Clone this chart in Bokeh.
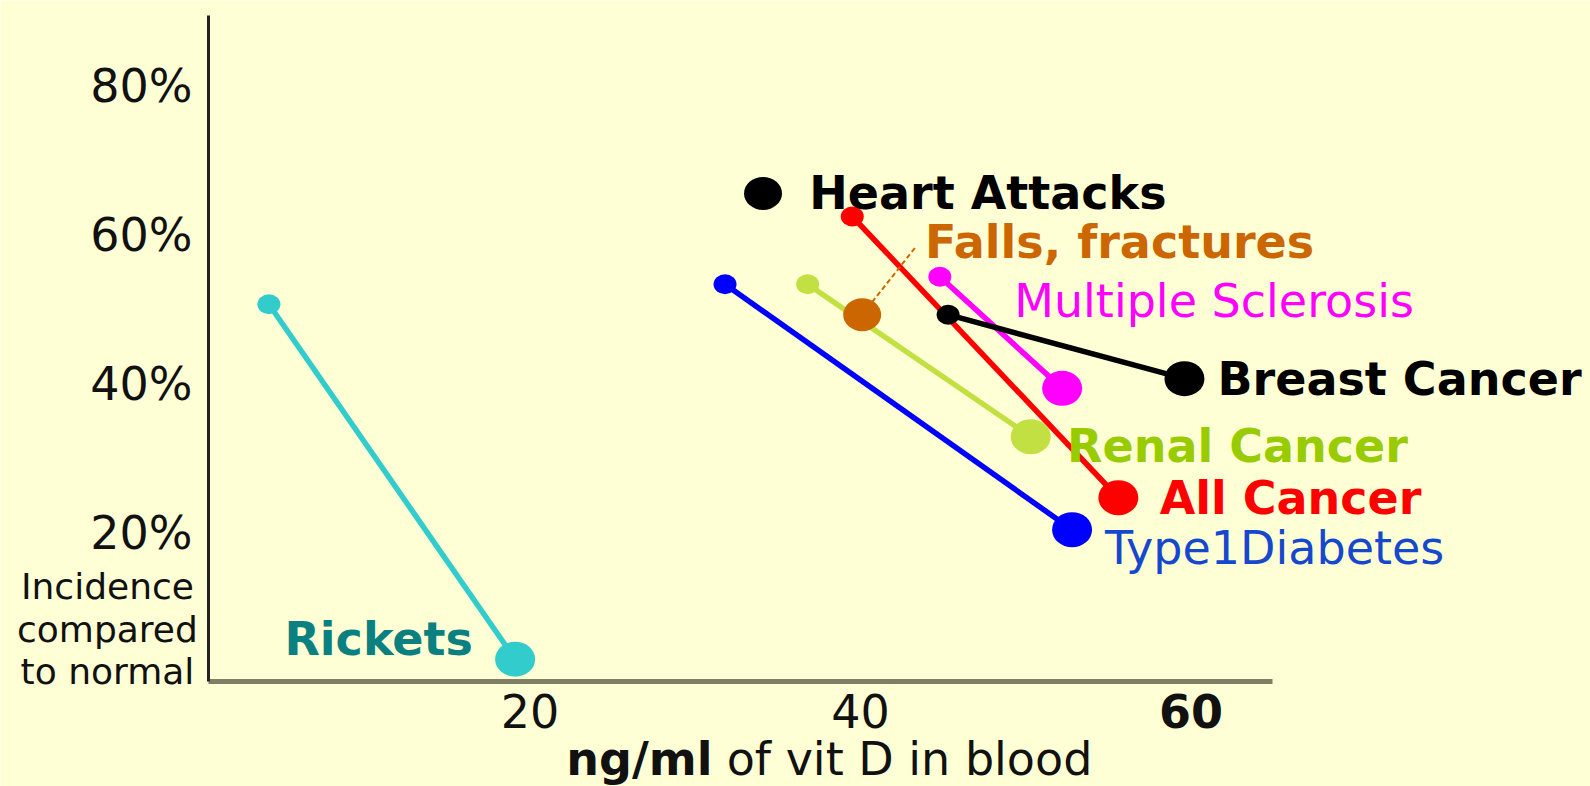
from bokeh.plotting import figure
from bokeh.models import Range1d, FixedTicker, LinearAxis, ColumnDataSource
from bokeh.core.properties import value
from bokeh.embed import file_html
from bokeh.resources import INLINE

# --- data -------------------------------------------------------------
# conditions drawn as a line from a low vitamin D level to a high one
conditions = ["Rickets", "Type1Diabetes", "Renal Cancer",
              "Multiple Sclerosis", "Breast Cancer", "All Cancer"]
vitd_low = [4.2, 31.8, 36.8, 44.8, 45.3, 39.5]        # ng/ml
incidence_low = [50.7, 53.4, 53.4, 54.4, 49.3, 62.5]  # %
vitd_high = [19.1, 52.8, 50.3, 52.2, 59.6, 55.6]      # ng/ml
incidence_high = [3.0, 20.4, 32.9, 39.4, 40.7, 24.7]  # %

# conditions shown as a single point
single_names = ["Heart Attacks", "Falls, fractures"]
single_vitd = [34.1, 40.1]
single_incidence = [65.6, 49.3]

x_ticks = [20, 40, 60]
y_ticks = [20, 40, 60, 80]
y_tick_labels = ["20%", "40%", "60%", "80%"]
caption_lines = ["Incidence", "compared", "to normal"]

# --- styling ------------------------------------------------------------
BG = "#FFFFD5"
FONT = "DejaVu Sans"
INK = "#111111"
line_colors = ["#33CCCC", "#0000FF", "#C3E043", "#FF00FF", "#000000", "#FF0000"]
text_colors = ["#0A8080", "#1548CC", "#99CC00", "#FF00FF", "#000000", "#FF0000"]
text_styles = ["bold", "normal", "bold", "normal", "bold", "bold"]
single_dot_colors = ["#000000", "#CC6600"]
single_text_colors = ["#000000", "#CC6600"]

# the plot frame covers the whole canvas; axes sit at fixed data positions
X_AXIS_START, X_AXIS_END = 0.545, 64.9
Y_AXIS_TOP = 89.5
p = figure(width=1590, height=786,
           x_range=Range1d(-12.04, 84.17), y_range=Range1d(-14.11, 91.53),
           output_backend="svg", toolbar_location=None,
           x_axis_location=None, y_axis_location=None,
           min_border=0,
           background_fill_color=BG, border_fill_color=BG,
           outline_line_color=None)
p.grid.grid_line_color = None


def plain_axis(ax, size="46px", style="normal", standoff=6):
    ax.major_tick_line_color = None
    ax.minor_tick_line_color = None
    ax.major_label_standoff = standoff
    ax.major_label_text_font = FONT
    ax.major_label_text_font_size = size
    ax.major_label_text_font_style = style
    ax.major_label_text_color = INK


# y axis
yax = LinearAxis(fixed_location=X_AXIS_START, ticker=FixedTicker(ticks=y_ticks),
                 major_label_overrides={t: s for t, s in zip(y_ticks, y_tick_labels)},
                 bounds=(0, Y_AXIS_TOP))
yax.axis_line_color = "#222222"
yax.axis_line_width = 3
plain_axis(yax, standoff=10)
p.add_layout(yax, "left")

# x axis on the zero line
xax = LinearAxis(fixed_location=0, ticker=FixedTicker(ticks=x_ticks[:2]),
                 bounds=(X_AXIS_START, X_AXIS_END))
xax.axis_line_color = "#7F7F66"
xax.axis_line_width = 5
plain_axis(xax)
p.add_layout(xax, "below")

xax_bold = LinearAxis(fixed_location=0, ticker=FixedTicker(ticks=x_ticks[2:]))
xax_bold.axis_line_color = None
plain_axis(xax_bold, style="bold")
p.add_layout(xax_bold, "below")

# x axis title: bold unit followed by plain text
p.text(x=[22.2], y=[-10.35], text=["ng/ml"], text_font=value(FONT),
       text_font_size="46px", text_font_style="bold", text_color=INK,
       text_align="left", text_baseline="middle")
p.text(x=[31.9], y=[-10.35], text=["of vit D in blood"], text_font=value(FONT),
       text_font_size="46px", text_color=INK,
       text_align="left", text_baseline="middle")

# y axis caption under the percentage ticks
p.text(x=[-5.57] * 3, y=[12.77, 6.99, 1.34], text=caption_lines,
       text_font=value(FONT), text_font_size="36px", text_color=INK,
       text_align="center", text_baseline="middle")

# --- lines and dots -------------------------------------------------------
src = ColumnDataSource(dict(name=conditions, x0=vitd_low, y0=incidence_low,
                            x1=vitd_high, y1=incidence_high,
                            color=line_colors))
p.segment(x0="x0", y0="y0", x1="x1", y1="y1", line_color="color",
          line_width=5.5, source=src)
p.ellipse(x="x0", y="y0", width=23, height=20, width_units="screen",
          height_units="screen", fill_color="color", line_color=None, source=src)
p.ellipse(x="x1", y="y1", width=40, height=35, width_units="screen",
          height_units="screen", fill_color="color", line_color=None, source=src)

# leader from the falls point to its label
p.segment(x0=[single_vitd[1]], y0=[single_incidence[1]], x1=[43.3], y1=[58.3],
          line_color="#CC6600", line_width=2, line_dash="5 3")

single_src = ColumnDataSource(dict(name=single_names, x=single_vitd,
                                   y=single_incidence, color=single_dot_colors))
p.ellipse(x="x", y="y", width=38, height=33, width_units="screen",
          height_units="screen", fill_color="color", line_color=None,
          source=single_src)

# --- condition labels -----------------------------------------------------
label_names = conditions + single_names
label_x = [5.14, 54.8, 52.5, 49.3, 61.6, 58.1, 36.9, 43.9]
label_y = [5.65, 17.9, 31.6, 51.2, 40.7, 24.7, 65.6, 59.1]
label_colors = text_colors + single_text_colors
label_styles = text_styles + ["bold", "bold"]
lab_src = ColumnDataSource(dict(x=label_x, y=label_y, text=label_names,
                                color=label_colors, style=label_styles))
p.text(x="x", y="y", text="text", text_color="color", text_font_style="style",
       text_font=value(FONT), text_font_size="46px", text_align="left",
       text_baseline="middle", source=lab_src)

open("out.html", "w").write(file_html(p, INLINE))
